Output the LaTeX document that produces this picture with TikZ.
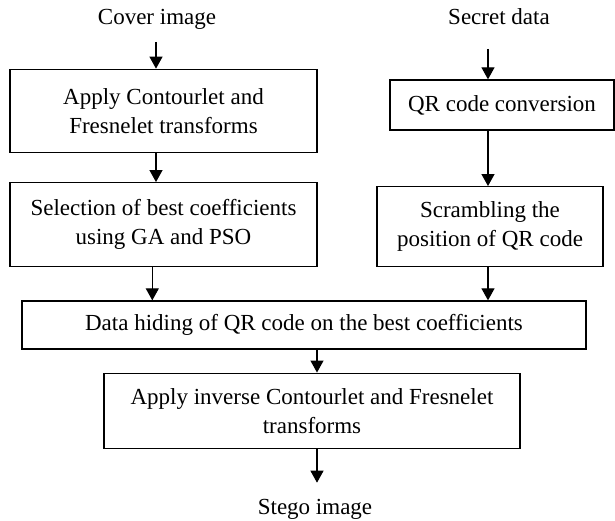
\documentclass[tikz,border=0pt]{standalone}
\usepackage{fontspec}
\setmainfont{Liberation Serif}
\usetikzlibrary{arrows.meta}
\begin{document}
\begin{tikzpicture}[x=1pt,y=-1pt,
  every node/.style={font=\fontsize{23}{29}\selectfont},
  box/.style={draw,line width=1.3pt,align=center,inner sep=0pt},
  lbl/.style={inner sep=0pt},
  arr/.style={line width=1.2pt,-{Triangle[length=12pt,width=13pt]}}]
\useasboundingbox (0,0) rectangle (615,521);
% labels
\node[lbl,anchor=base] (cover) at (157,25) {Cover image};
\node[lbl,anchor=base] (secret) at (499,25) {Secret data};
\node[lbl,anchor=base] (stego) at (315,514) {Stego image};
% boxes
\node[box,minimum width=307pt,minimum height=83.4pt] (b1) at (163.5,111) {Apply Contourlet and\\Fresnelet transforms};
\node[box,minimum width=307pt,minimum height=84pt] (b2) at (163.5,224.7) {Selection of best coefficients\\using GA and PSO};
\node[box,minimum width=224pt,minimum height=50pt] (b3) at (502,105) {QR code conversion};
\node[box,minimum width=226pt,minimum height=80pt] (b4) at (490,226.7) {Scrambling the\\position of QR code};
\node[box,minimum width=564pt,minimum height=48pt] (b5) at (304,325) {Data hiding of QR code on the best coefficients};
\node[box,minimum width=416pt,minimum height=75pt] (b6) at (312,410.7) {Apply inverse Contourlet and Fresnelet\\transforms};
% arrow columns
\coordinate (xA) at (156,42);
\coordinate (xB) at (488,49);
\coordinate (xC) at (152.3,0);
\coordinate (xD) at (317,0);
\coordinate (stegotop) at (317,482.7);
% connectors
\draw[arr] (xA) -- (b1.north -| xA);
\draw[arr] (b1.south -| xA) -- (b2.north -| xA);
\draw[arr] (xB) -- (b3.north -| xB);
\draw[arr] (b3.south -| xB) -- (b4.north -| xB);
\draw[arr] (b2.south -| xC) -- (b5.north -| xC);
\draw[arr] (b4.south -| xB) -- (b5.north -| xB);
\draw[arr] (b5.south -| xD) -- (b6.north -| xD);
\draw[arr] (b6.south -| xD) -- (stegotop);
\end{tikzpicture}
\end{document}
